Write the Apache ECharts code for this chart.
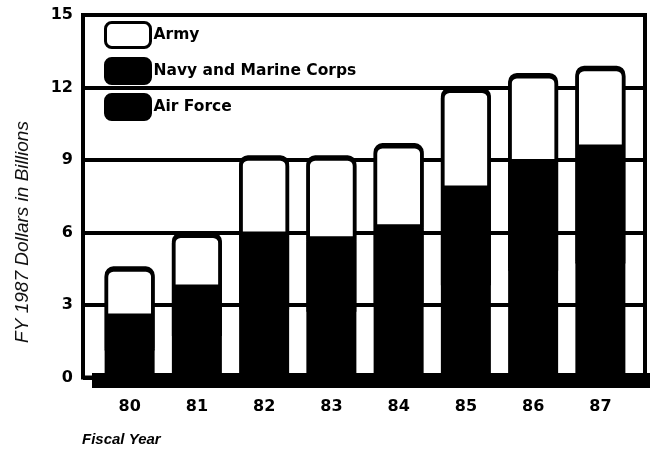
<!DOCTYPE html>
<html>
<head>
<meta charset="utf-8">
<script src="https://cdn.jsdelivr.net/npm/echarts@6/dist/echarts.min.js"></script>
<style>
  html, body { margin: 0; padding: 0; background: #fff; }
  #chart { width: 650px; height: 451px; }
</style>
</head>
<body>
<div id="chart"></div>
<script>
// Fiscal years on the category axis
const years = ['80', '81', '82', '83', '84', '85', '86', '87'];
// Spending by service, FY 1987 dollars in billions
const airForce = [1.2, 1.8, 2.9, 2.8, 3.1, 3.9, 4.5, 4.8];
const navyMarines = [1.3, 1.9, 3.0, 2.9, 3.1, 3.9, 4.4, 4.7];
const army = [2.1, 2.3, 3.3, 3.5, 3.5, 4.2, 3.7, 3.4];
// Value axis ticks
const yTicks = [0, 3, 6, 9, 12, 15];

const INK = '#000';
const FONT = '"DejaVu Sans", "Liberation Sans", sans-serif';
const HELV = '"Liberation Sans", Arial, sans-serif';

const chart = echarts.init(document.getElementById('chart'), null, { renderer: 'canvas' });

const barBase = {
  type: 'bar',
  stack: 'total',
  xAxisIndex: 0,
  yAxisIndex: 0,
  barWidth: 50,
  animation: false
};

// a hard, unblurred drop shadow closes the hairline seam between stacked segments
const seamFill = { shadowColor: INK, shadowBlur: 0, shadowOffsetY: 2 };

chart.setOption({
  backgroundColor: '#fff',
  animation: false,
  grid: [
    // bars
    { left: 96, right: 16, top: 15, bottom: 73.5 },
    // framed panel with the horizontal rules
    { left: 83, right: 5, top: 15, bottom: 73.5, show: true, borderColor: INK, borderWidth: 4, backgroundColor: 'transparent' }
  ],
  xAxis: [
    {
      type: 'category', gridIndex: 0, data: years,
      axisLine: { show: false }, axisTick: { show: false },
      axisLabel: { color: INK, fontFamily: FONT, fontWeight: 'bold', fontSize: 16, margin: 21 }
    },
    { type: 'category', gridIndex: 1, data: years, show: false }
  ],
  yAxis: [
    { type: 'value', gridIndex: 0, min: 0, max: 15, interval: 3, show: false },
    {
      type: 'value', gridIndex: 1, min: 0, max: 15, interval: 3,
      axisLine: { show: false }, axisTick: { show: false },
      axisLabel: {
        color: INK, fontFamily: FONT, fontWeight: 'bold', fontSize: 16, margin: 10,
        formatter: v => yTicks.includes(v) ? String(v) : ''
      },
      splitLine: { show: true, lineStyle: { color: INK, width: 4 } }
    }
  ],
  legend: {
    data: ['Army', 'Navy and Marine Corps', 'Air Force'],
    orient: 'vertical',
    left: 104, top: 21,
    padding: 0,
    itemWidth: 45, itemHeight: 25, itemGap: 8,
    icon: 'roundRect',
    selectedMode: false,
    itemStyle: { borderColor: INK, borderWidth: 3 },
    textStyle: { color: INK, fontFamily: FONT, fontWeight: 'bold', fontSize: 15.5, padding: [0, 0, 0, -2] }
  },
  title: {
    text: 'Fiscal Year',
    left: 82, top: 432,
    padding: 0,
    textStyle: { color: INK, fontFamily: HELV, fontWeight: 'bold', fontStyle: 'italic', fontSize: 15 }
  },
  graphic: [
    // heavy base rule under the bars
    { type: 'rect', left: 92, top: 373, shape: { width: 558, height: 15 }, style: { fill: INK }, z: 100 },
    // value axis title
    {
      type: 'text', x: 23, y: 232, rotation: Math.PI / 2,
      style: {
        text: 'FY 1987 Dollars in Billions',
        fill: '#111', font: 'italic 19px "Liberation Sans", Arial, sans-serif',
        align: 'center', verticalAlign: 'middle'
      }
    }
  ],
  series: [
    Object.assign({}, barBase, {
      name: 'Air Force', data: airForce,
      itemStyle: { color: INK, borderColor: INK, borderWidth: 3.5 }
    }),
    Object.assign({}, barBase, {
      name: 'Navy and Marine Corps', data: navyMarines,
      itemStyle: Object.assign({ color: INK, borderColor: INK, borderWidth: 3.5 }, seamFill)
    }),
    Object.assign({}, barBase, {
      name: 'Army', data: army,
      itemStyle: Object.assign({ color: '#fff', borderColor: INK, borderWidth: 3.5, borderRadius: [7, 7, 0, 0] }, seamFill)
    })
  ]
});
</script>
</body>
</html>
